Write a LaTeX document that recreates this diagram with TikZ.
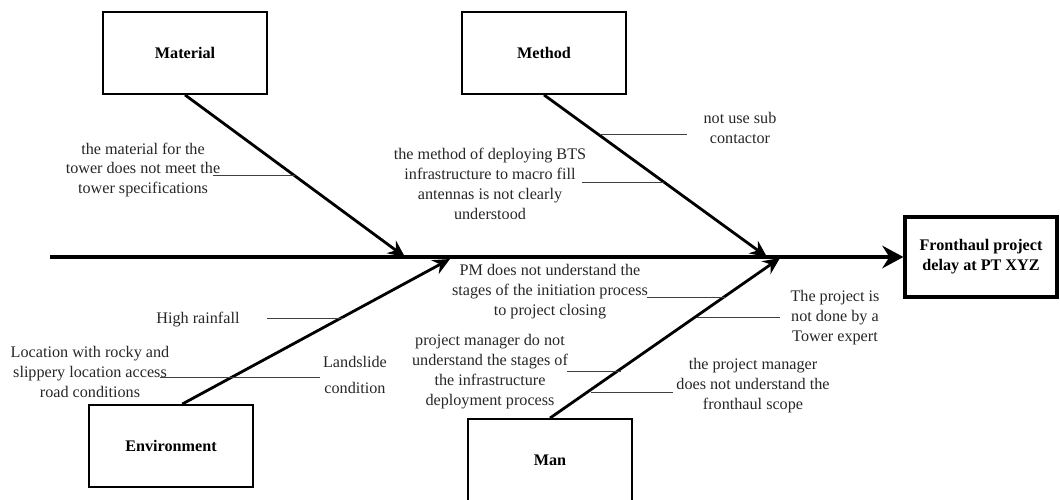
\documentclass[tikz,border=0pt]{standalone}
\usepackage{fontspec}
\setmainfont{Liberation Serif}
\usetikzlibrary{arrows.meta}

\newcommand\lblfont{\fontsize{11.5}{14.2}\selectfont}

\begin{document}
\begin{tikzpicture}[x=0.025cm, y=-0.025cm,
    catbox/.style={draw, line width=1.3pt, minimum width=4.1cm, minimum height=2.05cm, font=\lblfont\bfseries},
    effectbox/.style={draw, line width=2.2pt, minimum width=3.8cm, minimum height=2cm, align=center, font=\lblfont\bfseries},
    cause/.style={align=center, inner sep=0pt, font=\lblfont, text=black!85},
    bone/.style={line width=2pt, -{Stealth[length=12pt, width=11pt, inset=4pt]}},
    spine/.style={line width=3pt, -{Stealth[length=15pt, width=16pt, inset=5pt]}},
    tick/.style={line width=0.6pt, black!75}]
    \useasboundingbox (0,0) rectangle (1060,500);

    % effect and spine
    \path (981,257) node [effectbox] (eff) {Fronthaul project\\delay at PT XYZ};
    \coordinate (tail) at (50,257);
    \draw [spine] (tail) -- (eff.west);

    % categories
    \path (185,53) node [catbox] (mat) {Material};
    \path (544,53) node [catbox] (meth) {Method};
    \path (171,446) node [catbox] (env) {Environment};
    \path (550,460) node [catbox] (man) {Man};

    \coordinate (matend) at (405,257);
    \coordinate (methend) at (767,257);
    \coordinate (envend) at (450,259);
    \coordinate (manend) at (780,258);
    \draw [bone] (mat.south) -- (matend);
    \draw [bone] (meth.south) -- (methend);
    \draw [bone] ([xshift=0.28cm]env.north) -- (envend);
    \draw [bone] (man.north) -- (manend);

    % material causes
    \path (143,170) node [cause] (mat1) {the material for the\\tower does not meet the\\tower specifications};
    \coordinate (mat1a) at (213,175);
    \coordinate (mat1b) at (295,175);
    \draw [tick] (mat1a) -- (mat1b);

    % method causes
    \path (740,128) node [cause] (meth1) {not use sub\\contactor};
    \coordinate (meth1a) at (600,134);
    \coordinate (meth1b) at (687,134);
    \draw [tick] (meth1a) -- (meth1b);
    \path (490,184) node [cause] (meth2) {the method of deploying BTS\\infrastructure to macro fill\\antennas is not clearly\\understood};
    \coordinate (meth2a) at (582,182);
    \coordinate (meth2b) at (664,182);
    \draw [tick] (meth2a) -- (meth2b);

    % environment causes
    \path (198,320) node [cause] (env1) {High rainfall};
    \coordinate (env1a) at (267,318);
    \coordinate (env1b) at (343,318);
    \draw [tick] (env1a) -- (env1b);
    \path (90,372) node [cause] (env2) {Location with rocky and\\slippery location access\\road conditions};
    \coordinate (env2a) at (160,377);
    \coordinate (env2b) at (320,377);
    \draw [tick] (env2a) -- (env2b);
    \path (355,375) node [cause, font=\fontsize{11.5}{18.5}\selectfont] (env3) {Landslide\\condition};

    % man causes
    \path (550,292) node [cause] (man1) {PM does not understand the\\stages of the initiation process\\to project closing};
    \coordinate (man1a) at (647,297);
    \coordinate (man1b) at (725,297);
    \draw [tick] (man1a) -- (man1b);
    \path (835,318) node [cause] (man2) {The project is\\not done by a\\Tower expert};
    \coordinate (man2a) at (697,317);
    \coordinate (man2b) at (780,317);
    \draw [tick] (man2a) -- (man2b);
    \path (490,372) node [cause] (man3) {project manager do not\\understand the stages of\\the infrastructure\\deployment process};
    \coordinate (man3a) at (567,371);
    \coordinate (man3b) at (621,371);
    \draw [tick] (man3a) -- (man3b);
    \path (753,386) node [cause] (man4) {the project manager\\does not understand the\\fronthaul scope};
    \coordinate (man4a) at (591,392);
    \coordinate (man4b) at (673,392);
    \draw [tick] (man4a) -- (man4b);
\end{tikzpicture}
\end{document}
